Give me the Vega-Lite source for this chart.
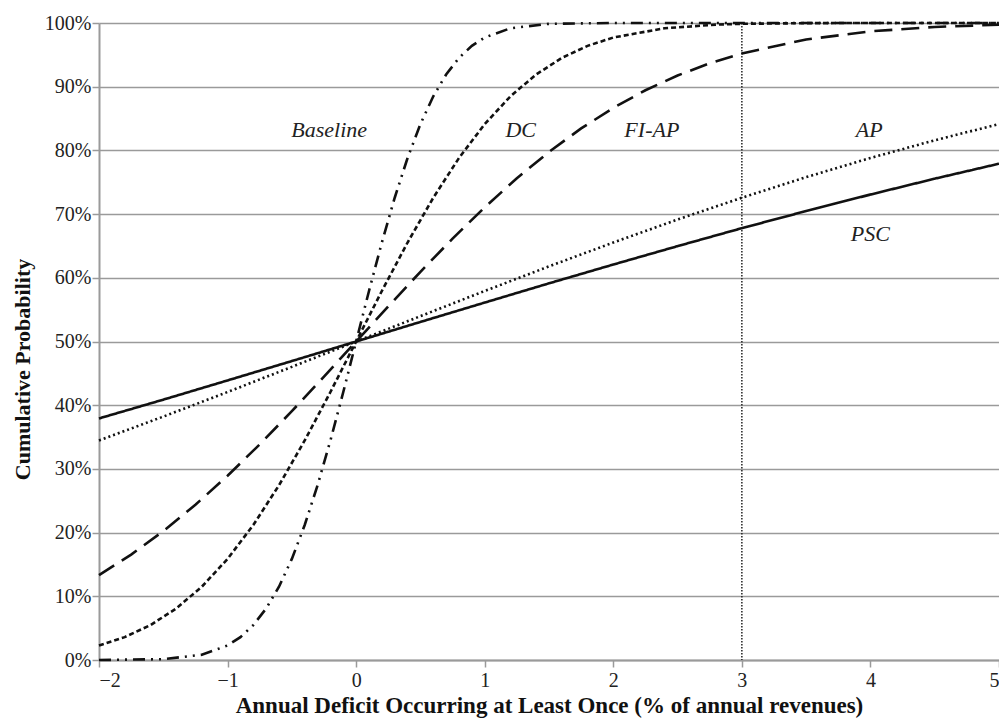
{
  "$schema": "https://vega.github.io/schema/vega-lite/v6.json",
  "width": 900,
  "height": 637,
  "autosize": {"type": "none"},
  "padding": {"left": 99, "top": 23, "right": 0, "bottom": 64},
  "background": "white",
  "config": {
    "view": {"stroke": null},
    "font": "Liberation Serif",
    "axis": {
      "labelFont": "Liberation Serif",
      "labelFontSize": 20,
      "labelColor": "#222",
      "titleFont": "Liberation Serif",
      "titleFontSize": 23,
      "titleFontWeight": "bold",
      "titleColor": "#111",
      "gridColor": "#9a9a9a",
      "gridWidth": 1.5,
      "gridOpacity": 1,
      "domainColor": "#9a9a9a",
      "domainWidth": 2,
      "tickColor": "#9a9a9a",
      "tickWidth": 1.5,
      "tickSize": 7
    }
  },
  "datasets": {
    "curves": [
      {"series": "Baseline", "x": -2, "p": 0.0},
      {"series": "Baseline", "x": -1.5, "p": 0.0013},
      {"series": "Baseline", "x": -1.2, "p": 0.0082},
      {"series": "Baseline", "x": -1.0, "p": 0.0228},
      {"series": "Baseline", "x": -0.9, "p": 0.0359},
      {"series": "Baseline", "x": -0.8, "p": 0.0548},
      {"series": "Baseline", "x": -0.7, "p": 0.0808},
      {"series": "Baseline", "x": -0.6, "p": 0.1151},
      {"series": "Baseline", "x": -0.5, "p": 0.1587},
      {"series": "Baseline", "x": -0.4, "p": 0.2119},
      {"series": "Baseline", "x": -0.3, "p": 0.2743},
      {"series": "Baseline", "x": -0.2, "p": 0.3446},
      {"series": "Baseline", "x": -0.1, "p": 0.4207},
      {"series": "Baseline", "x": 0, "p": 0.5},
      {"series": "Baseline", "x": 0.1, "p": 0.5793},
      {"series": "Baseline", "x": 0.2, "p": 0.6554},
      {"series": "Baseline", "x": 0.3, "p": 0.7257},
      {"series": "Baseline", "x": 0.4, "p": 0.7881},
      {"series": "Baseline", "x": 0.5, "p": 0.8413},
      {"series": "Baseline", "x": 0.6, "p": 0.8849},
      {"series": "Baseline", "x": 0.7, "p": 0.9192},
      {"series": "Baseline", "x": 0.8, "p": 0.9452},
      {"series": "Baseline", "x": 0.9, "p": 0.9641},
      {"series": "Baseline", "x": 1.0, "p": 0.9772},
      {"series": "Baseline", "x": 1.2, "p": 0.9918},
      {"series": "Baseline", "x": 1.5, "p": 0.9987},
      {"series": "Baseline", "x": 2, "p": 1.0},
      {"series": "Baseline", "x": 5, "p": 1.0},
      {"series": "DC", "x": -2, "p": 0.0228},
      {"series": "DC", "x": -1.8, "p": 0.0359},
      {"series": "DC", "x": -1.6, "p": 0.0548},
      {"series": "DC", "x": -1.4, "p": 0.0808},
      {"series": "DC", "x": -1.2, "p": 0.1151},
      {"series": "DC", "x": -1.0, "p": 0.1587},
      {"series": "DC", "x": -0.8, "p": 0.2119},
      {"series": "DC", "x": -0.6, "p": 0.2743},
      {"series": "DC", "x": -0.4, "p": 0.3446},
      {"series": "DC", "x": -0.2, "p": 0.4207},
      {"series": "DC", "x": 0, "p": 0.5},
      {"series": "DC", "x": 0.2, "p": 0.5793},
      {"series": "DC", "x": 0.4, "p": 0.6554},
      {"series": "DC", "x": 0.6, "p": 0.7257},
      {"series": "DC", "x": 0.8, "p": 0.7881},
      {"series": "DC", "x": 1.0, "p": 0.8413},
      {"series": "DC", "x": 1.2, "p": 0.8849},
      {"series": "DC", "x": 1.4, "p": 0.9192},
      {"series": "DC", "x": 1.6, "p": 0.9452},
      {"series": "DC", "x": 1.8, "p": 0.9641},
      {"series": "DC", "x": 2.0, "p": 0.9772},
      {"series": "DC", "x": 2.4, "p": 0.9918},
      {"series": "DC", "x": 2.8, "p": 0.9974},
      {"series": "DC", "x": 3.0, "p": 0.9987},
      {"series": "DC", "x": 3.5, "p": 0.9998},
      {"series": "DC", "x": 4, "p": 1.0},
      {"series": "DC", "x": 5, "p": 1.0},
      {"series": "FI-AP", "x": -2, "p": 0.1333},
      {"series": "FI-AP", "x": -1.75, "p": 0.1655},
      {"series": "FI-AP", "x": -1.5, "p": 0.2024},
      {"series": "FI-AP", "x": -1.25, "p": 0.2437},
      {"series": "FI-AP", "x": -1.0, "p": 0.2893},
      {"series": "FI-AP", "x": -0.75, "p": 0.3385},
      {"series": "FI-AP", "x": -0.5, "p": 0.3906},
      {"series": "FI-AP", "x": -0.25, "p": 0.4448},
      {"series": "FI-AP", "x": 0, "p": 0.5},
      {"series": "FI-AP", "x": 0.25, "p": 0.5552},
      {"series": "FI-AP", "x": 0.5, "p": 0.6094},
      {"series": "FI-AP", "x": 0.75, "p": 0.6615},
      {"series": "FI-AP", "x": 1.0, "p": 0.7107},
      {"series": "FI-AP", "x": 1.25, "p": 0.7563},
      {"series": "FI-AP", "x": 1.5, "p": 0.7976},
      {"series": "FI-AP", "x": 1.75, "p": 0.8345},
      {"series": "FI-AP", "x": 2.0, "p": 0.8667},
      {"series": "FI-AP", "x": 2.25, "p": 0.8944},
      {"series": "FI-AP", "x": 2.5, "p": 0.9176},
      {"series": "FI-AP", "x": 2.75, "p": 0.9367},
      {"series": "FI-AP", "x": 3.0, "p": 0.9522},
      {"series": "FI-AP", "x": 3.5, "p": 0.9741},
      {"series": "FI-AP", "x": 4.0, "p": 0.9869},
      {"series": "FI-AP", "x": 4.5, "p": 0.9938},
      {"series": "FI-AP", "x": 5.0, "p": 0.9973},
      {"series": "AP", "x": -2, "p": 0.3446},
      {"series": "AP", "x": -1.5, "p": 0.3821},
      {"series": "AP", "x": -1, "p": 0.4207},
      {"series": "AP", "x": -0.5, "p": 0.4602},
      {"series": "AP", "x": 0, "p": 0.5},
      {"series": "AP", "x": 0.5, "p": 0.5398},
      {"series": "AP", "x": 1, "p": 0.5793},
      {"series": "AP", "x": 1.5, "p": 0.6179},
      {"series": "AP", "x": 2, "p": 0.6554},
      {"series": "AP", "x": 2.5, "p": 0.6915},
      {"series": "AP", "x": 3, "p": 0.7257},
      {"series": "AP", "x": 3.5, "p": 0.758},
      {"series": "AP", "x": 4, "p": 0.7881},
      {"series": "AP", "x": 4.5, "p": 0.8159},
      {"series": "AP", "x": 5, "p": 0.8413},
      {"series": "PSC", "x": -2, "p": 0.3792},
      {"series": "PSC", "x": -1.5, "p": 0.4087},
      {"series": "PSC", "x": -1, "p": 0.4389},
      {"series": "PSC", "x": -0.5, "p": 0.4693},
      {"series": "PSC", "x": 0, "p": 0.5},
      {"series": "PSC", "x": 0.5, "p": 0.5307},
      {"series": "PSC", "x": 1, "p": 0.5611},
      {"series": "PSC", "x": 1.5, "p": 0.5913},
      {"series": "PSC", "x": 2, "p": 0.6208},
      {"series": "PSC", "x": 2.5, "p": 0.6497},
      {"series": "PSC", "x": 3, "p": 0.6779},
      {"series": "PSC", "x": 3.5, "p": 0.7048},
      {"series": "PSC", "x": 4, "p": 0.7307},
      {"series": "PSC", "x": 4.5, "p": 0.7556},
      {"series": "PSC", "x": 5, "p": 0.7791}
    ],
    "labels": [
      {"label": "Baseline", "x": -0.21, "p": 0.832},
      {"label": "DC", "x": 1.28, "p": 0.832},
      {"label": "FI-AP", "x": 2.3, "p": 0.832},
      {"label": "AP", "x": 3.99, "p": 0.832},
      {"label": "PSC", "x": 4.0, "p": 0.669}
    ],
    "vline": [{"x": 3}]
  },
  "encoding": {
    "x": {
      "field": "x",
      "type": "quantitative",
      "scale": {"domain": [-2, 5], "nice": false, "zero": false},
      "axis": {
        "title": "Annual Deficit Occurring at Least Once (% of annual revenues)",
        "values": [-2, -1, 0, 1, 2, 3, 4, 5],
        "grid": false,
        "labelPadding": 3,
        "titlePadding": 4
      }
    },
    "y": {
      "field": "p",
      "type": "quantitative",
      "scale": {"domain": [0, 1], "nice": false},
      "axis": {
        "title": "Cumulative Probability",
        "titleFontSize": 22,
        "titleY": 346,
        "format": ".0%",
        "values": [0, 0.1, 0.2, 0.3, 0.4, 0.5, 0.6, 0.7, 0.8, 0.9, 1.0],
        "grid": true,
        "labelPadding": 1,
        "titlePadding": 10
      }
    }
  },
  "layer": [
    {
      "data": {"name": "vline"},
      "mark": {"type": "rule", "color": "#222", "strokeWidth": 1.5, "strokeDash": [1.5, 1.5]},
      "encoding": {"y": null}
    },
    {
      "data": {"name": "curves"},
      "mark": {"type": "line", "color": "#111", "strokeWidth": 2.6},
      "encoding": {
        "detail": {"field": "series"},
        "strokeDash": {
          "field": "series",
          "type": "nominal",
          "scale": {
            "domain": ["Baseline", "DC", "FI-AP", "AP", "PSC"],
            "range": [[12, 6, 2, 6, 2, 6], [5, 3], [18, 9], [2, 3], [1, 0]]
          },
          "legend": null
        }
      }
    },
    {
      "data": {"name": "labels"},
      "mark": {"type": "text", "font": "Liberation Serif", "fontStyle": "italic", "fontSize": 22, "color": "#222"},
      "encoding": {"text": {"field": "label"}}
    }
  ]
}
